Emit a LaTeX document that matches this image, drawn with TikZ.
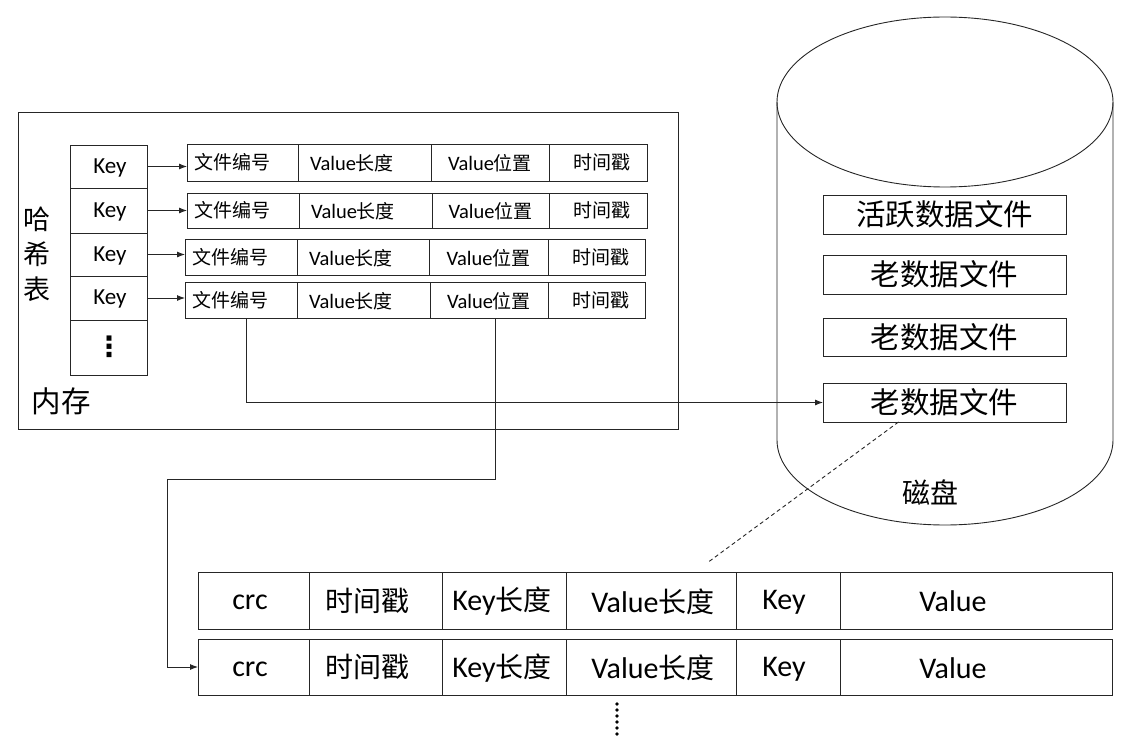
\documentclass[tikz,border=0pt]{standalone}
\usepackage{fontspec}
\setmainfont{Carlito}
\newfontfamily\cjk{Noto Sans CJK SC}
\newfontfamily\dvs{DejaVu Sans}
\usetikzlibrary{arrows.meta}
% \cellbox[style]{name}{x1}{y1}{x2}{y2}
\newcommand\cellbox[6][]{\node[box,#1,minimum width={(#5-#3)*1pt},minimum height={(#6-#4)*1pt}] (#2) at (#3,#4) {};}
% CJK helpers with their own sizes
\newcommand\cjs[1]{{\cjk\fontsize{19}{21}\selectfont #1}}
\newcommand\cjb[1]{{\cjk\fontsize{28}{30}\selectfont #1}}
\begin{document}
\begin{tikzpicture}[x=1pt,y=-1pt,
  ln/.style={draw=black!85, line width=0.9pt},
  box/.style={ln, rectangle, inner sep=0pt, outer sep=0pt, anchor=north west},
  arr/.style={ln, -{Latex[length=8pt,width=6pt]}},
  txt/.style={inner sep=0pt, text=black},
  sm/.style={txt, font=\fontsize{20.5}{22}\selectfont},
  keyf/.style={txt, font=\fontsize{23}{25}\selectfont},
  big/.style={txt, font=\fontsize{30}{32}\selectfont},
  huge/.style={txt, font=\fontsize{29.5}{31}\selectfont},
]
\useasboundingbox (0,0) rectangle (1140,746);

% memory frame
\cellbox{mem}{18}{112}{678}{429}
\node[huge] (memlbl) at (61,401) {\cjk 内存};
\node[txt, align=center, font=\fontsize{27}{35}\selectfont] (hashlbl) at (37,254) {\cjk 哈\\\cjk 希\\\cjk 表};

% hash table column
\foreach \i/\t/\b in {1/145/188, 2/188/233, 3/233/276, 4/276/320}{
  \cellbox{k\i}{70}{\t}{147}{\b}
  \node[keyf] (kt\i) at (110,{(\t+\b)/2+1}) {Key};
}
\cellbox{k5}{70}{320}{147}{375}
\node[txt, font=\dvs\bfseries\fontsize{28}{30}\selectfont] (kdots) at (109,347) {⋮};

% index records
\foreach \i/\t/\b/\l/\p/\q/\s/\r in {1/144/181/187/298/431/549/647, 2/193/228/187/299/432/549/647, 3/239/275/185/297/429/548/645, 4/282/318/185/297/430/548/645}{
  \cellbox{r\i a}{\l}{\t}{\p}{\b}
  \cellbox{r\i b}{\p}{\t}{\q}{\b}
  \cellbox{r\i c}{\q}{\t}{\s}{\b}
  \cellbox{r\i d}{\s}{\t}{\r}{\b}
  \node[sm] (ra\i) at (\l+45,{(\t+\b)/2}) {\cjs{文件编号}};
  \node[sm] (rb\i) at (\p+54,{(\t+\b)/2+1}) {Value\cjs{长度}};
  \node[sm] (rc\i) at ({(\q+\s)/2},{(\t+\b)/2+1}) {Value\cjs{位置}};
  \node[sm] (rd\i) at (\s+53,{(\t+\b)/2}) {\cjs{时间戳}};
  \draw[arr] (k\i.east) -- (k\i.east -| r\i a.west);
}

% disk cylinder
\draw[ln] (945,102) ellipse [x radius=168pt, y radius=85pt];
\draw[ln] (777,102) -- (777,440) arc[start angle=180, end angle=360, x radius=168pt, y radius=85pt] -- (1113,102);
\node[big] (disk) at (930,492) {\cjb{磁盘}};

% data files
\cellbox{f1}{823}{195}{1066}{234}
\cellbox{f2}{823}{255}{1066}{294}
\cellbox{f3}{823}{318}{1066}{356}
\cellbox{f4}{823}{383}{1066}{422}
\node[huge] (ft1) at (f1.center) {\cjk 活跃数据文件};
\node[huge] (ft2) at (f2.center) {\cjk 老数据文件};
\node[huge] (ft3) at (f3.center) {\cjk 老数据文件};
\node[huge] (ft4) at (f4.center) {\cjk 老数据文件};

% data records on disk
\foreach \i/\t/\b in {1/572/629, 2/639/695}{
  \cellbox{b\i a}{198}{\t}{309}{\b}
  \cellbox{b\i b}{309}{\t}{442}{\b}
  \cellbox{b\i c}{442}{\t}{566}{\b}
  \cellbox{b\i d}{566}{\t}{736}{\b}
  \cellbox{b\i e}{736}{\t}{840}{\b}
  \cellbox{b\i f}{840}{\t}{1112}{\b}
  \node[big] (ba\i) at (250,{(\t+\b)/2+2}) {crc};
  \node[big] (bb\i) at (367,{(\t+\b)/2}) {\cjb{时间戳}};
  \node[big] (bc\i) at (502,{(\t+\b)/2+1}) {Key\cjb{长度}};
  \node[big] (bd\i) at (653,{(\t+\b)/2+1}) {Value\cjb{长度}};
  \node[big] (be\i) at (784,{(\t+\b)/2+2}) {Key};
  \node[big] (bf\i) at (953,{(\t+\b)/2+1}) {Value};
}
\coordinate (dotstop) at (617,704);
\coordinate (dotsbot) at (617,734);
\draw[black, line width=3.6pt, line cap=round, dash pattern=on 0pt off 6pt] (dotstop) -- (dotsbot);

% connectors
\draw[arr] ([xshift=5pt]r4a.south) |- (f4.west);
\coordinate (bend) at (167,479);
\draw[arr] ([xshift=6pt]r4c.south) |- (bend) |- (b2a.west);
\coordinate (dashend) at (707,563);
\draw[ln, dash pattern=on 4pt off 3pt] ([xshift=-46pt]f4.south) -- (dashend);
\end{tikzpicture}
\end{document}
